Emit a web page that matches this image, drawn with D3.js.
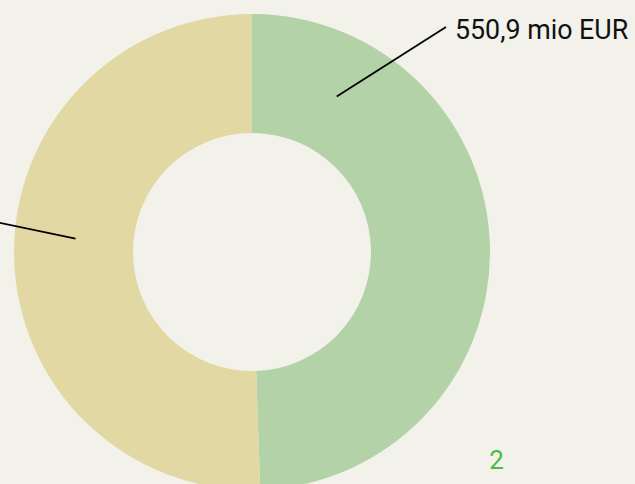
<!DOCTYPE html>
<html>
<head>
<meta charset="utf-8">
<script src="https://cdn.jsdelivr.net/npm/d3@7"></script>
<style>
  html, body { margin: 0; padding: 0; background: #f2f2eb; }
  svg { display: block; }
</style>
</head>
<body>
<svg id="chart" width="635" height="484"></svg>
<script>
// values in mio EUR
var categories = ["A", "B"];
var values = [550.9, 563.2];
var labels = ["550,9 mio EUR", "563,2 mio EUR"];
var colors = ["#b3d2a7", "#e1d8a3"];
var pageNumber = "2";

var svg = d3.select("#chart"),
    width = 635,
    height = 484,
    cx = 252, cy = 252,
    outerR = 238, innerR = 119;

var pie = d3.pie().sort(null).value(function(d) { return d; });
var arc = d3.arc().innerRadius(innerR).outerRadius(outerR);
var arcs = pie(values);

var g = svg.append("g").attr("transform", "translate(" + cx + "," + cy + ")");

g.selectAll("path.slice")
    .data(arcs)
    .enter().append("path")
    .attr("class", "slice")
    .attr("fill", function(d, i) { return colors[i]; })
    .attr("d", arc);

// leader lines: start inside the ring, end outside where the label sits
var leaderAngle = [28.6, 274.3];      // degrees clockwise from top
var leaderEnd = [[194, -225], [-290, -37]];
var leaderR = 177;

arcs.forEach(function(d, i) {
    var a = leaderAngle[i] * Math.PI / 180;
    var x0 = Math.sin(a) * leaderR, y0 = -Math.cos(a) * leaderR;
    var x1 = leaderEnd[i][0], y1 = leaderEnd[i][1];
    g.append("line")
        .attr("x1", x0).attr("y1", y0)
        .attr("x2", x1).attr("y2", y1)
        .attr("stroke", "#000")
        .attr("stroke-width", 1.8);
    var right = x1 > 0;
    g.append("text")
        .attr("x", right ? x1 + 9 : x1 - 9)
        .attr("y", y1 + 12)
        .attr("text-anchor", right ? "start" : "end")
        .attr("font-family", "Roboto, sans-serif")
        .attr("font-size", 26.8)
        .attr("fill", "#111")
        .text(labels[i]);
});

svg.append("text")
    .attr("x", 496.5)
    .attr("y", 469)
    .attr("text-anchor", "middle")
    .attr("font-family", "Roboto, sans-serif")
    .attr("font-size", 26)
    .attr("fill", "#4cb848")
    .text(pageNumber);
</script>
</body>
</html>
